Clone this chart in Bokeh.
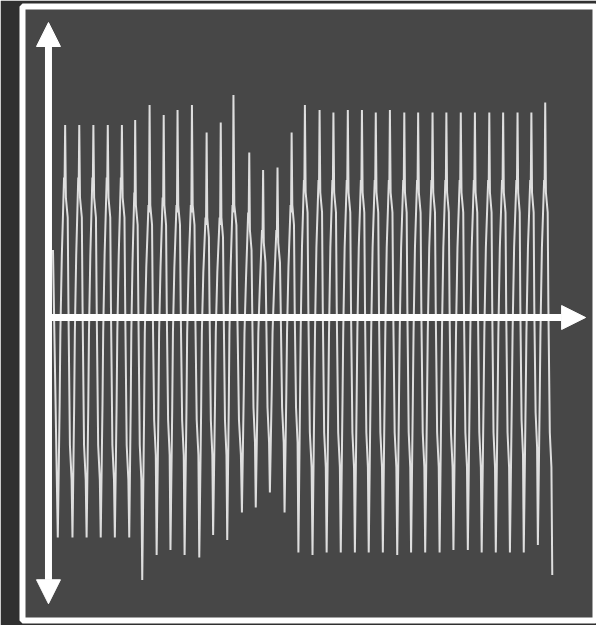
from bokeh.plotting import figure
from bokeh.models import Range1d, Arrow, NormalHead, ColumnDataSource
from bokeh.embed import file_html
from bokeh.resources import INLINE

# ---- waveform key values (time in ms, amplitude) ----
start_t = 0.0
start_v = 0.27

trough_t = [1.7, 6.9, 11.9, 16.9, 21.9, 27.0, 31.6, 36.7, 41.6, 46.6, 51.8, 56.7,
            61.7, 66.9, 71.8, 76.8, 82.0, 86.9, 91.9, 96.9, 101.9, 106.9, 111.8,
            116.8, 121.9, 126.8, 131.8, 136.9, 141.8, 146.9, 151.8, 156.8, 161.8,
            166.7, 171.7, 176.8]
trough_v = [-0.88, -0.88, -0.88, -0.88, -0.88, -0.88, -1.05, -0.95, -0.93, -0.95,
            -0.96, -0.87, -0.89, -0.78, -0.76, -0.70, -0.78, -0.94, -0.95, -0.94,
            -0.94, -0.94, -0.94, -0.94, -0.95, -0.94, -0.94, -0.94, -0.93, -0.93,
            -0.94, -0.94, -0.94, -0.94, -0.91, -1.03]

peak_t = [4.3, 9.3, 14.3, 19.4, 24.4, 29.1, 34.2, 39.2, 44.1, 49.2, 54.4, 59.4,
          63.9, 69.5, 74.4, 79.5, 84.5, 89.2, 94.4, 99.3, 104.4, 109.4, 114.3,
          119.3, 124.4, 129.3, 134.4, 139.3, 144.4, 149.4, 154.5, 159.4, 164.5,
          169.4, 174.3]
peak_v = [0.77, 0.77, 0.77, 0.77, 0.77, 0.79, 0.85, 0.81, 0.83, 0.85, 0.74, 0.78,
          0.89, 0.66, 0.59, 0.60, 0.74, 0.85, 0.83, 0.82, 0.83, 0.83, 0.82, 0.83,
          0.82, 0.82, 0.82, 0.82, 0.82, 0.82, 0.82, 0.82, 0.82, 0.82, 0.86]

# shoulders inside each cycle (rising side, then falling side)
rise_low_v = [-0.35, -0.35, -0.35, -0.35, -0.35, -0.35, -0.40, -0.38, -0.36, -0.38,
              -0.38, -0.34, -0.35, -0.30, -0.30, -0.28, -0.30, -0.33, -0.33, -0.33,
              -0.33, -0.33, -0.33, -0.33, -0.33, -0.33, -0.33, -0.33, -0.33, -0.33,
              -0.33, -0.33, -0.33, -0.33, -0.33]
rise_mid_v = [0.25, 0.25, 0.25, 0.25, 0.25, 0.22, 0.20, 0.20, 0.20, 0.20, 0.18, 0.18,
              0.20, 0.15, 0.12, 0.12, 0.20, 0.28, 0.28, 0.28, 0.28, 0.28, 0.28, 0.28,
              0.28, 0.28, 0.28, 0.28, 0.28, 0.28, 0.28, 0.28, 0.28, 0.28, 0.28]
rise_high_v = [0.56, 0.56, 0.56, 0.56, 0.56, 0.50, 0.45, 0.48, 0.45, 0.45, 0.40, 0.40,
               0.45, 0.42, 0.35, 0.35, 0.45, 0.55, 0.55, 0.55, 0.55, 0.55, 0.55, 0.55,
               0.55, 0.55, 0.55, 0.55, 0.55, 0.55, 0.55, 0.55, 0.55, 0.55, 0.55]
fall_high_v = [0.48, 0.48, 0.48, 0.48, 0.48, 0.45, 0.45, 0.45, 0.45, 0.45, 0.40, 0.40,
               0.45, 0.35, 0.30, 0.30, 0.45, 0.50, 0.50, 0.50, 0.50, 0.50, 0.50, 0.50,
               0.50, 0.50, 0.50, 0.50, 0.50, 0.50, 0.50, 0.50, 0.50, 0.50, 0.50]
fall_low_v = [-0.65, -0.65, -0.65, -0.65, -0.65, -0.65, -0.55, -0.55, -0.55, -0.55,
              -0.55, -0.55, -0.55, -0.50, -0.50, -0.50, -0.50, -0.60, -0.60, -0.60,
              -0.60, -0.60, -0.60, -0.60, -0.60, -0.60, -0.60, -0.60, -0.60, -0.60,
              -0.60, -0.60, -0.55, -0.52, -0.60]
mid_rise_v = -0.06
mid_fall_v = 0.04
shoulder_dip = 0.03
fall_linger = 0.08
low_linger = 0.14

# axis arrows extents
axis_t = -1.6
amp_top = 1.18
amp_bottom = -1.145
time_end = 188.6

# ---- build the polyline through the read key values ----
rise_frac = [0.25, 0.35, 0.55, 0.85, 0.92]
fall_frac = [0.10, 0.35, 0.45, 0.65, 0.88]
ts = [start_t, trough_t[0]]
vs = [start_v, trough_v[0]]
for i in range(len(peak_t)):
    tT, tP, tN = trough_t[i], peak_t[i], trough_t[i + 1]
    d1 = tP - tT
    ts += [tT + f * d1 for f in rise_frac] + [tP]
    vs += [rise_low_v[i], mid_rise_v, rise_mid_v[i], rise_high_v[i],
           rise_high_v[i] - shoulder_dip, peak_v[i]]
    d2 = tN - tP
    ts += [tP + f * d2 for f in fall_frac] + [tN]
    vs += [fall_high_v[i], fall_high_v[i] - fall_linger, mid_fall_v,
           fall_low_v[i] + low_linger, fall_low_v[i], trough_v[i + 1]]

src = ColumnDataSource(dict(t=ts, v=vs))

p = figure(width=596, height=625,
           x_range=Range1d(-10.8, 192.46), y_range=Range1d(-1.212, 1.244),
           x_axis_type=None, y_axis_type=None,
           toolbar_location=None, output_backend="svg",
           min_border_left=22, min_border_right=0,
           min_border_top=6, min_border_bottom=5,
           background_fill_color="#474747", border_fill_color="#303030",
           outline_line_color="white", outline_line_width=6)
p.grid.visible = False

p.line("t", "v", source=src, line_color="#f4f4f4", line_width=2.0, line_alpha=0.88)

head = dict(size=24, fill_color="white", line_color="white", line_width=1)
p.add_layout(Arrow(x_start=axis_t, y_start=amp_bottom, x_end=axis_t, y_end=amp_top,
                   start=NormalHead(**head), end=NormalHead(**head),
                   line_color="white", line_width=7))
p.add_layout(Arrow(x_start=axis_t, y_start=0, x_end=time_end, y_end=0,
                   end=NormalHead(**head),
                   line_color="white", line_width=7))

open("out.html", "w").write(file_html(p, INLINE))
